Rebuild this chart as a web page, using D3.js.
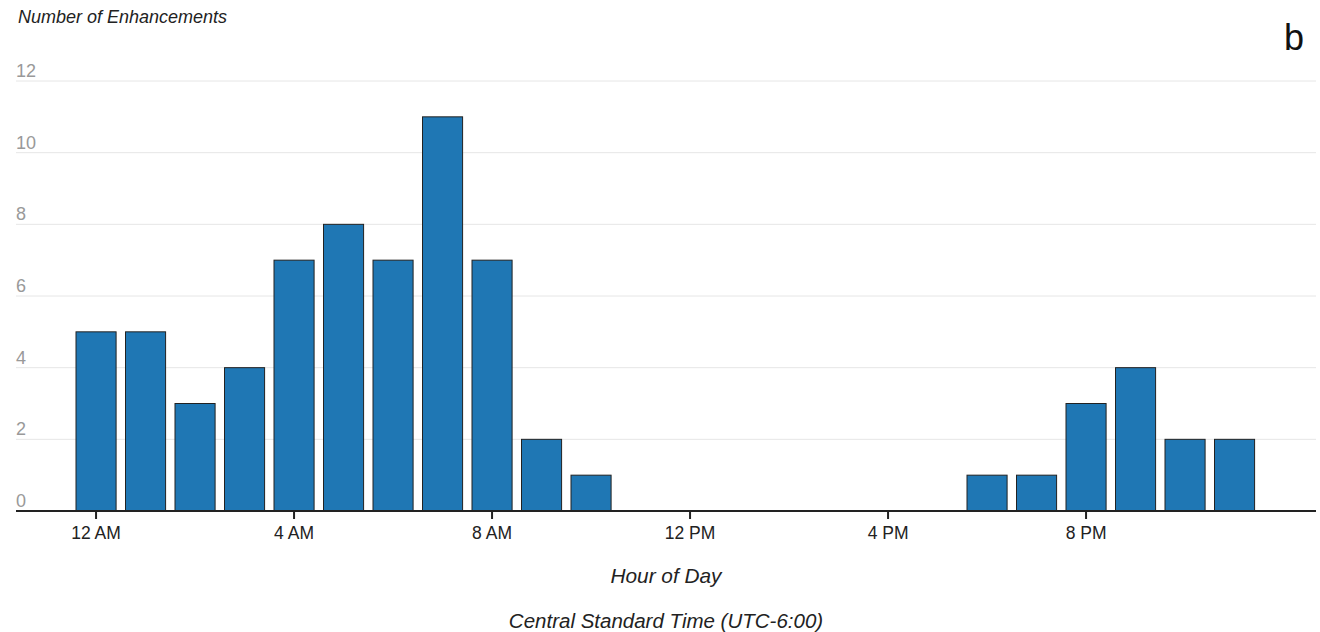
<!DOCTYPE html>
<html>
<head>
<meta charset="utf-8">
<script src="https://cdn.jsdelivr.net/npm/d3@7"></script>
<style>
  body { margin: 0; background: #fff; }
  svg text { font-family: "Liberation Sans", Arial, sans-serif; }
</style>
</head>
<body>
<div id="chart"></div>
<script>
// hour of day (CST) -> number of enhancements
var hours = d3.range(24);
var counts = [5, 5, 3, 4, 7, 8, 7, 11, 7, 2, 1, 0, 0, 0, 0, 0, 0, 0, 1, 1, 3, 4, 2, 2];
var tickHours = [0, 4, 8, 12, 16, 20];
var tickLabels = ['12 AM', '4 AM', '8 AM', '12 PM', '4 PM', '8 PM'];
var yTicks = [0, 2, 4, 6, 8, 10, 12];

var width = 1320, height = 632;
var left = 16, right = 1316, baseY = 511, topY = 81;

var svg = d3.select('#chart')
    .append('svg')
    .attr('width', width)
    .attr('height', height);

var x = d3.scaleBand()
    .domain(hours)
    .range([71.3, 1259.3])
    .paddingInner(0.19)
    .paddingOuter(0.095);

var y = d3.scaleLinear()
    .domain([0, 12])
    .range([baseY, topY]);

// grid lines + labels
var grid = svg.append('g');
grid.selectAll('line')
    .data(yTicks.slice(1))
    .enter().append('line')
    .attr('x1', left).attr('x2', right)
    .attr('y1', function (d) { return y(d); })
    .attr('y2', function (d) { return y(d); })
    .attr('stroke', '#e6e6e6')
    .attr('stroke-width', 1);
grid.selectAll('text')
    .data(yTicks)
    .enter().append('text')
    .attr('x', left)
    .attr('y', function (d) { return y(d) - 4; })
    .attr('fill', '#999')
    .style('font-size', '18px')
    .text(function (d) { return d; });

// bars
svg.append('g').selectAll('rect')
    .data(hours.filter(function (h) { return counts[h] > 0; }))
    .enter().append('rect')
    .attr('x', function (h) { return x(h); })
    .attr('y', function (h) { return y(counts[h]); })
    .attr('width', x.bandwidth())
    .attr('height', function (h) { return baseY - y(counts[h]); })
    .attr('fill', '#1f77b4')
    .attr('stroke', '#222')
    .attr('stroke-width', 1);

// x axis
var xAxis = svg.append('g');
xAxis.append('line')
    .attr('x1', left).attr('x2', right)
    .attr('y1', baseY).attr('y2', baseY)
    .attr('stroke', '#222')
    .attr('stroke-width', 2);
var ticks = xAxis.selectAll('g.tick')
    .data(tickHours)
    .enter().append('g')
    .attr('class', 'tick')
    .attr('transform', function (h) { return 'translate(' + (x(h) + x.bandwidth() / 2) + ',0)'; });
ticks.append('line')
    .attr('y1', baseY).attr('y2', baseY + 8)
    .attr('stroke', '#222')
    .attr('stroke-width', 2);
ticks.append('text')
    .attr('y', baseY + 28)
    .attr('text-anchor', 'middle')
    .attr('fill', '#222')
    .style('font-size', '17.5px')
    .text(function (h, i) { return tickLabels[i]; });

// titles
svg.append('text')
    .attr('x', 18).attr('y', 23)
    .attr('fill', '#222')
    .style('font-size', '18px')
    .style('font-style', 'italic')
    .text('Number of Enhancements');

svg.append('text')
    .attr('x', 1304).attr('y', 50)
    .attr('text-anchor', 'end')
    .attr('fill', '#111')
    .style('font-size', '36px')
    .text('b');

svg.append('text')
    .attr('x', 666).attr('y', 583)
    .attr('text-anchor', 'middle')
    .attr('fill', '#222')
    .style('font-size', '20.8px')
    .style('font-style', 'italic')
    .text('Hour of Day');

svg.append('text')
    .attr('x', 666).attr('y', 628)
    .attr('text-anchor', 'middle')
    .attr('fill', '#222')
    .style('font-size', '20.5px')
    .style('font-style', 'italic')
    .text('Central Standard Time (UTC-6:00)');
</script>
</body>
</html>
